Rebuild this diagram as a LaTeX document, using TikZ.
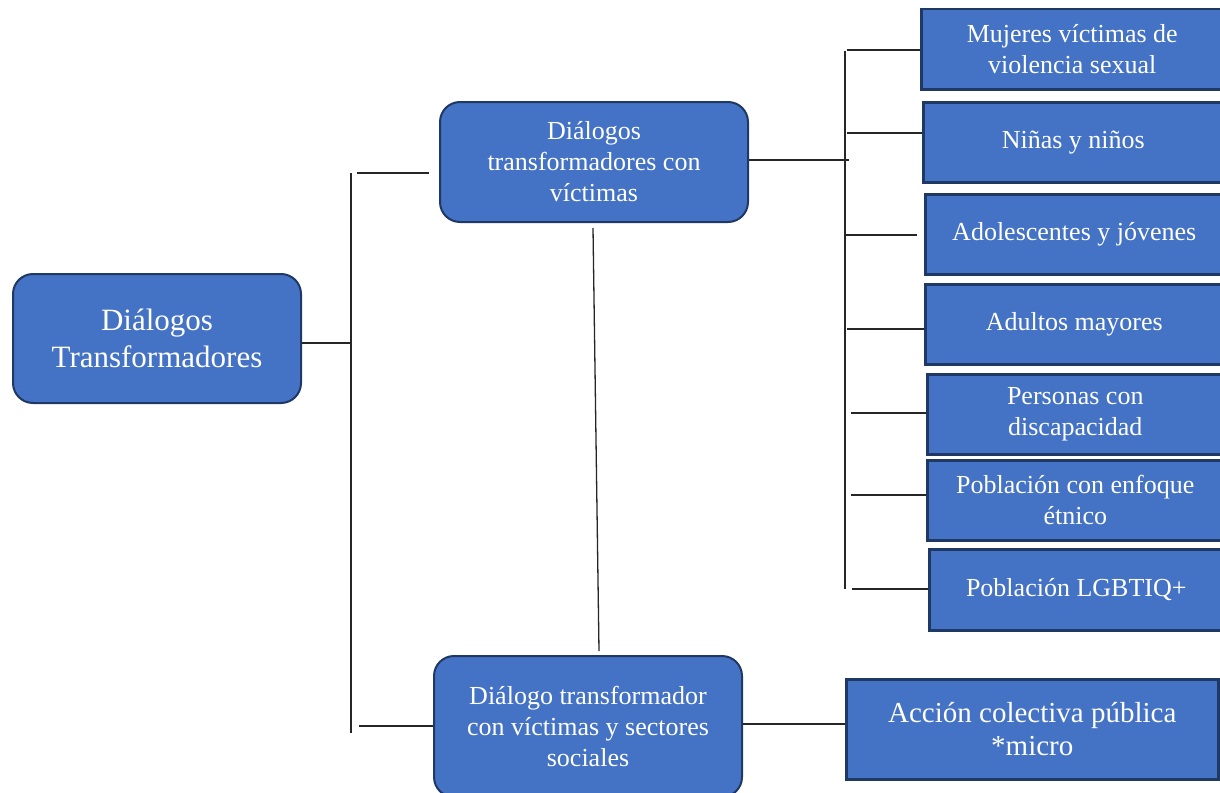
\documentclass[tikz,border=0pt]{standalone}
\usepackage{fontspec}
\setmainfont{Liberation Serif}
\definecolor{boxfill}{HTML}{4472C4}
\definecolor{boxedge}{HTML}{1F3864}
\begin{document}
\begin{tikzpicture}[x=1pt,y=-1pt,
  base/.style={fill=boxfill,draw=boxedge,text=white,align=center,inner sep=0pt,anchor=north west},
  rbox/.style={base,line width=2pt,rounded corners=20pt},
  sbox/.style={base,line width=2.5pt},
  conn/.style={line width=1.3pt,black!85}]
\useasboundingbox (0,0) rectangle (1220,792);
% main boxes
\node[rbox,minimum width=288pt,minimum height=129pt,font=\fontsize{31}{37}\selectfont] (root) at (12,273) {Diálogos\\Transformadores};
\node[rbox,minimum width=308pt,minimum height=120pt,font=\fontsize{26}{31}\selectfont] (mid1) at (439,101) {Diálogos\\transformadores con\\víctimas};
\node[rbox,minimum width=308pt,minimum height=141pt,font=\fontsize{26}{31}\selectfont] (mid2) at (433,655) {Diálogo transformador\\con víctimas y sectores\\sociales};
% right boxes
\begin{scope}[every node/.append style={sbox,font=\fontsize{26}{31}\selectfont}]
\node[minimum width=302pt,minimum height=80pt] (r1) at (920,8) {Mujeres víctimas de\\violencia sexual};
\node[minimum width=300pt,minimum height=80pt] (r2) at (922,101) {Niñas y niños};
\node[minimum width=298pt,minimum height=80pt] (r3) at (924,193) {Adolescentes y jóvenes};
\node[minimum width=298pt,minimum height=80pt] (r4) at (924,283) {Adultos mayores};
\node[minimum width=296pt,minimum height=80pt] (r5) at (926,373) {Personas con\\discapacidad};
\node[minimum width=296pt,minimum height=80pt] (r6) at (926,459) {Población con enfoque\\étnico};
\node[minimum width=294pt,minimum height=81pt] (r7) at (928,548) {Población LGBTIQ+};
\end{scope}
\node[sbox,minimum width=372pt,minimum height=100pt,font=\fontsize{29}{33}\selectfont] (acc) at (845,678) {Acción colectiva pública\\*micro};
% bus coordinates
\coordinate (busLtop) at (351,173);
\coordinate (busLbot) at (351,733);
\coordinate (busRtop) at (845,51);
\coordinate (busRbot) at (845,589);
\coordinate (m1top) at (593,228);
\coordinate (m2bot) at (599,651);
% left connectors
\draw[conn] (busLtop) -- (busLbot);
\draw[conn] (root.east |- 0,343) -- (351,343);
\draw[conn] (357,173) -- (429,173);
\draw[conn] (359,726) -- (mid2.west |- 0,726);
\draw[conn] (m1top) -- (m2bot);
% right connectors
\draw[conn] (busRtop) -- (busRbot);
\draw[conn] (mid1.east |- 0,160) -- (849,160);
\draw[conn] (847,50) -- (r1.west |- 0,50);
\draw[conn] (847,133) -- (r2.west |- 0,133);
\draw[conn] (845,235) -- (917,235);
\draw[conn] (847,329) -- (r4.west |- 0,329);
\draw[conn] (851,413) -- (r5.west |- 0,413);
\draw[conn] (851,495) -- (r6.west |- 0,495);
\draw[conn] (852,589) -- (r7.west |- 0,589);
\draw[conn] (mid2.east |- 0,724) -- (acc.west |- 0,724);
\end{tikzpicture}
\end{document}
